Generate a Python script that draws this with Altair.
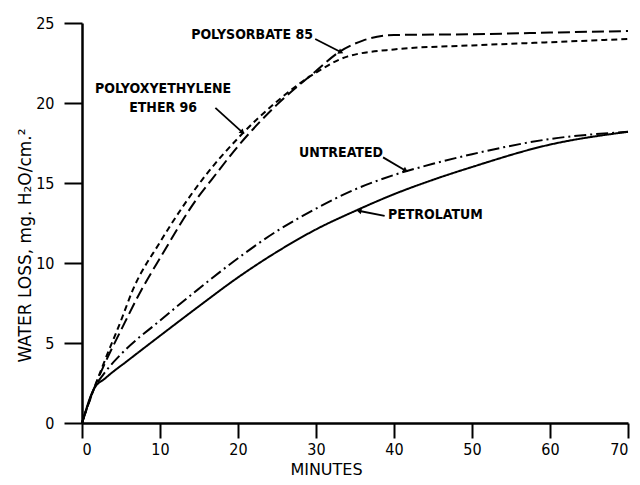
import math
import altair as alt
import pandas as pd

minutes_poly85 = [0, 1.5, 3, 5, 7.6, 10, 15, 16.6, 20, 25, 30, 33, 36, 40, 50, 60, 70]
polysorbate = [0, 2.1, 3.8, 5.8, 8.3, 10.3, 14.2, 15.2, 17.3, 19.9, 22.0, 23.2, 23.9, 24.25, 24.3, 24.4, 24.5]
minutes_poe96 = [0, 1.5, 3, 5, 6.5, 10, 15.4, 20, 25, 30, 34, 40, 50, 60, 70]
polyoxy = [0, 2.1, 4.0, 6.4, 8.3, 11.3, 15.2, 17.8, 20.1, 21.9, 22.9, 23.35, 23.6, 23.8, 24.0]
minutes_untr = [0, 1.5, 3, 5, 10, 15, 20, 25, 30, 35, 40, 45, 50, 60, 70]
untreated = [0, 2.1, 3.2, 4.3, 6.4, 8.4, 10.3, 12.0, 13.4, 14.6, 15.5, 16.2, 16.8, 17.75, 18.2]
minutes_petr = [0, 1.5, 3, 6, 10, 15, 20, 25, 30, 35, 40, 45, 50, 60, 70]
petrolatum = [0, 2.1, 2.8, 3.95, 5.45, 7.3, 9.1, 10.7, 12.1, 13.25, 14.3, 15.2, 16.0, 17.4, 18.2]

series_names = ["Polysorbate 85", "Polyoxyethylene ether 96", "Untreated", "Petrolatum"]
series_dash = [[12, 5], [6, 4], [12, 4, 2, 4], [1, 0]]

rows = []
for name, xs, ys in [
    ("Polysorbate 85", minutes_poly85, polysorbate),
    ("Polyoxyethylene ether 96", minutes_poe96, polyoxy),
    ("Untreated", minutes_untr, untreated),
    ("Petrolatum", minutes_petr, petrolatum),
]:
    for x, y in zip(xs, ys):
        rows.append({"series": name, "minutes": x, "loss": y})
df = pd.DataFrame(rows)

# annotation labels (data coordinates, centre of text)
label_text = ["POLYSORBATE 85", "POLYOXYETHYLENE", "ETHER 96", "UNTREATED", "PETROLATUM"]
label_x = [21.8, 10.4, 10.4, 33.2, 45.3]
label_y = [24.25, 20.9, 19.7, 16.85, 13.0]
labels = pd.DataFrame({"text": label_text, "x": label_x, "y": label_y})

# arrows: start and tip (data coordinates)
arrow_x1 = [29.9, 17.1, 38.6, 38.8]
arrow_y1 = [24.0, 19.7, 16.6, 12.95]
arrow_x2 = [33.1, 20.5, 41.4, 35.6]
arrow_y2 = [23.2, 18.2, 15.8, 13.25]

W, H = 546, 400
XMAX, YMAX = 70, 25
angles = []
for x1, y1, x2, y2 in zip(arrow_x1, arrow_y1, arrow_x2, arrow_y2):
    dx = (x2 - x1) * W / XMAX
    dy = -(y2 - y1) * H / YMAX
    angles.append(math.degrees(math.atan2(dx, -dy)) % 360)
arrows = pd.DataFrame({"x1": arrow_x1, "y1": arrow_y1, "x2": arrow_x2, "y2": arrow_y2, "angle": angles})

xscale = alt.Scale(domain=[0, 70], nice=False)
yscale = alt.Scale(domain=[0, 25], nice=False)

lines = alt.Chart(df).mark_line(color="black", strokeWidth=2, interpolate="monotone").encode(
    x=alt.X("minutes:Q", scale=xscale,
            axis=alt.Axis(title="MINUTES", values=[0, 10, 20, 30, 40, 50, 60, 70], grid=False,
                          domainColor="black", domainWidth=2.5, tickColor="black", tickWidth=2,
                          tickSize=15, labelPadding=3, labelFontSize=16, labelColor="black",
                          labelFont="DejaVu Sans Condensed", titleFont="DejaVu Sans",
                          titleFontSize=16, titleFontWeight="normal", titleColor="black",
                          titleX=244, titleY=46, titleBaseline="middle")),
    y=alt.Y("loss:Q", scale=yscale,
            axis=alt.Axis(title="WATER LOSS, mg. H\u2082O/cm.\u00b2", values=[0, 5, 10, 15, 20, 25],
                          grid=False, domainColor="black", domainWidth=2.5, tickColor="black",
                          tickWidth=2, tickSize=18, labelPadding=10, labelFontSize=16,
                          labelColor="black", labelFont="DejaVu Sans Condensed",
                          titleFont="DejaVu Sans", titleFontSize=17, titleFontWeight="normal",
                          titleColor="black", titleX=-57, titleY=222, titleBaseline="middle")),
    strokeDash=alt.StrokeDash("series:N", scale=alt.Scale(domain=series_names, range=series_dash),
                              legend=None),
    detail="series:N",
)

text = alt.Chart(labels).mark_text(align="center", baseline="middle", font="DejaVu Sans Condensed",
                                   fontWeight="bold", fontSize=14, color="black").encode(
    x=alt.X("x:Q", scale=xscale), y=alt.Y("y:Q", scale=yscale), text="text:N")

arrow_lines = alt.Chart(arrows).mark_rule(color="black", strokeWidth=1.8).encode(
    x=alt.X("x1:Q", scale=xscale), y=alt.Y("y1:Q", scale=yscale), x2="x2:Q", y2="y2:Q")

heads = alt.Chart(arrows).mark_point(shape="triangle", filled=True, color="black", size=35, opacity=1).encode(
    x=alt.X("x2:Q", scale=xscale), y=alt.Y("y2:Q", scale=yscale), angle=alt.Angle("angle:Q", scale=None))

chart = alt.layer(lines, arrow_lines, heads, text).properties(
    width=W, height=H,
    background="white",
    autosize=alt.AutoSizeParams(type="none"),
    padding={"left": 74, "top": 15, "right": 4, "bottom": 60},
).configure_view(stroke=None)

chart.save("out.html", embed_options={"renderer": "svg", "actions": False})
